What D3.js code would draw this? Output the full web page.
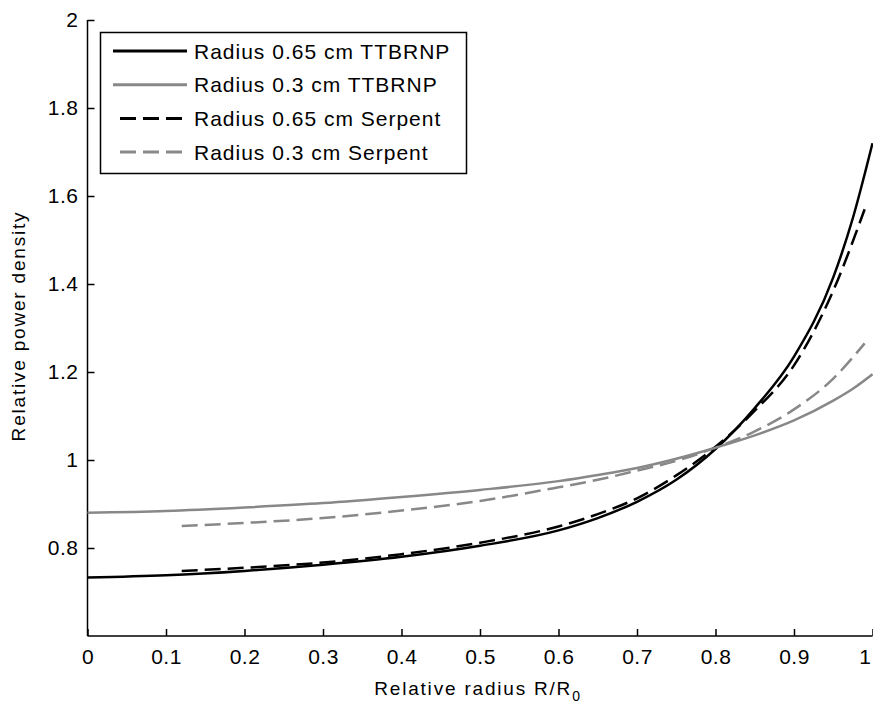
<!DOCTYPE html>
<html>
<head>
<meta charset="utf-8">
<script src="https://cdn.jsdelivr.net/npm/d3@7"></script>
<style>
body { margin: 0; background: #fff; }
text { font-family: "Liberation Sans", Arial, sans-serif; fill: #000; }
</style>
</head>
<body>
<svg id="chart" width="873" height="706"></svg>
<script>
// values
var xTTB = [0, 0.1, 0.2, 0.3, 0.4, 0.5, 0.6, 0.65, 0.7, 0.75, 0.8, 0.85, 0.9, 0.95, 0.975, 1.0];
var r065TTB = [0.733, 0.738, 0.748, 0.762, 0.780, 0.805, 0.840, 0.868, 0.905, 0.955, 1.025, 1.118, 1.235, 1.415, 1.55, 1.72];
var r03TTB = [0.880, 0.884, 0.892, 0.902, 0.916, 0.932, 0.952, 0.966, 0.982, 1.003, 1.028, 1.056, 1.090, 1.135, 1.162, 1.195];

var xSerp = [0.12, 0.2, 0.3, 0.4, 0.5, 0.6, 0.65, 0.7, 0.75, 0.8, 0.85, 0.9, 0.95, 0.99];
var r065Serp = [0.748, 0.755, 0.767, 0.786, 0.812, 0.849, 0.877, 0.913, 0.965, 1.030, 1.112, 1.215, 1.385, 1.57];
var r03Serp = [0.850, 0.857, 0.868, 0.885, 0.907, 0.938, 0.955, 0.976, 0.998, 1.028, 1.065, 1.115, 1.185, 1.265];

var xTicks = [0, 0.1, 0.2, 0.3, 0.4, 0.5, 0.6, 0.7, 0.8, 0.9, 1];
var yTicks = [0.8, 1, 1.2, 1.4, 1.6, 1.8, 2];

var series = [
    {name: "Radius 0.65 cm TTBRNP", xs: xTTB, ys: r065TTB, color: "#000", dash: null},
    {name: "Radius 0.3 cm TTBRNP", xs: xTTB, ys: r03TTB, color: "#888", dash: null},
    {name: "Radius 0.65 cm Serpent", xs: xSerp, ys: r065Serp, color: "#000", dash: "16,7"},
    {name: "Radius 0.3 cm Serpent", xs: xSerp, ys: r03Serp, color: "#888", dash: "16,7"}
];

var svg = d3.select("#chart");
var x = d3.scaleLinear().domain([0, 1]).range([87.5, 872.5]);
var y = d3.scaleLinear().domain([0.6, 2]).range([636, 20]);

// axes
var fmt = function (d) { return d3.format("")(+d.toFixed(1)); };
var xAxis = d3.axisBottom(x).tickValues(xTicks).tickSizeInner(-7).tickSizeOuter(0).tickFormat(fmt);
var yAxis = d3.axisLeft(y).tickValues(yTicks).tickSizeInner(-7).tickSizeOuter(0).tickFormat(fmt);

var gx = svg.append("g").attr("transform", "translate(0,636)").call(xAxis);
var gy = svg.append("g").attr("transform", "translate(87.5,0)").call(yAxis);
[gx, gy].forEach(function (g) {
    g.select(".domain").attr("stroke", "#000").attr("stroke-width", 1.5);
    g.selectAll(".tick line").attr("stroke", "#000").attr("stroke-width", 1.5);
    g.selectAll(".tick text").style("font-size", "21px").style("letter-spacing", "0.5px")
        .attr("fill", "#000").style("font-family", "'Liberation Sans', Arial, sans-serif");
});
gx.select(".domain").attr("d", "M87.5,0H872.5");
gy.select(".domain").attr("d", "M0,636V20");
gx.selectAll(".tick text").attr("dy", "0.71em").attr("y", 13);
gy.selectAll(".tick text").attr("x", -9);
// keep the last x label inside the window
gx.selectAll(".tick text").filter(function (d) { return d === 1; })
    .attr("text-anchor", "end").attr("x", -2).style("letter-spacing", "0px");

// curves
var line = d3.line().curve(d3.curveMonotoneX)
    .x(function (d) { return x(d[0]); })
    .y(function (d) { return y(d[1]); });

series.forEach(function (s) {
    var pts = s.xs.map(function (v, i) { return [v, s.ys[i]]; });
    svg.append("path").datum(pts)
        .attr("d", line)
        .attr("fill", "none")
        .attr("stroke", s.color)
        .attr("stroke-width", 2.5)
        .attr("stroke-dasharray", s.dash);
});

// axis labels
svg.append("text")
    .attr("x", 478).attr("y", 695)
    .attr("text-anchor", "middle")
    .style("font-size", "19px").style("letter-spacing", "1.8px")
    .html("Relative radius R/R<tspan dy='6' font-size='14px'>0</tspan>");

svg.append("text")
    .attr("transform", "translate(25,326) rotate(-90)")
    .attr("text-anchor", "middle")
    .style("font-size", "19px").style("letter-spacing", "1.8px")
    .text("Relative power density");

// legend
var leg = svg.append("g");
leg.append("rect")
    .attr("x", 100.5).attr("y", 32.5).attr("width", 366).attr("height", 141)
    .attr("fill", "#fff").attr("stroke", "#000").attr("stroke-width", 1.5);
series.forEach(function (s, i) {
    var cy = 51 + i * 33.7;
    leg.append("line")
        .attr("x1", s.dash ? 120 : 113).attr("x2", 187)
        .attr("y1", cy).attr("y2", cy)
        .attr("stroke", s.color).attr("stroke-width", 3)
        .attr("stroke-dasharray", s.dash);
    leg.append("text")
        .attr("x", 194).attr("y", cy)
        .attr("dy", "0.36em")
        .style("font-size", "21px").style("letter-spacing", "1px")
        .text(s.name);
});
</script>
</body>
</html>
